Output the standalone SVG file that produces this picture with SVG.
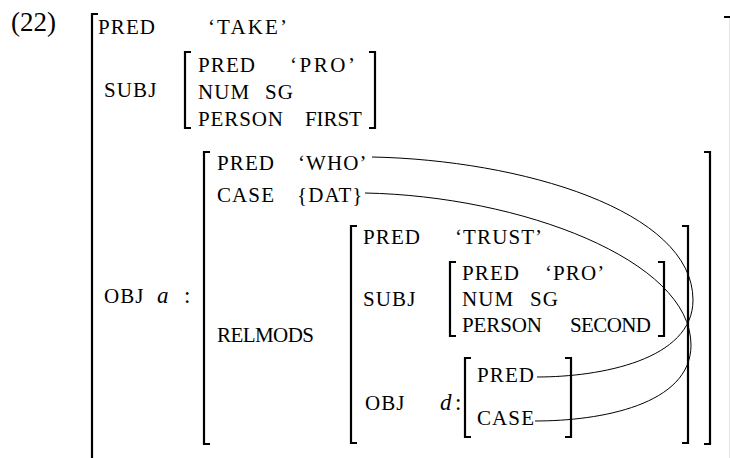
<svg xmlns="http://www.w3.org/2000/svg" width="730" height="458" viewBox="0 0 730 458">
<style>
text{font-family:'Liberation Serif','DejaVu Serif',serif;fill:#000}
.t{font-size:21px;letter-spacing:1.1px}
.m{font-size:23px;font-style:italic}
.n{font-size:23px}
.num{font-size:27px}
.br{fill:none;stroke:#000;stroke-width:2.2}
.c{fill:none;stroke:#000;stroke-width:1}
</style>
<rect width="730" height="458" fill="#fff"/>
<text class="num" x="11" y="31">(22)</text>

<g id="outer">
  <path class="br" d="M98,14 H92 V462"/>
  <path class="br" d="M724,17 H731 V462"/>
  <text class="t" x="98" y="34">PRED</text>
  <text class="t" x="208" y="34" textLength="80">‘TAKE’</text>
  <text class="t" x="104" y="97">SUBJ</text>
  <text class="t" x="104" y="303">OBJ</text>
  <text class="m" x="157" y="303">a</text>
  <text class="n" x="184" y="303">:</text>
</g>

<g id="subj1">
  <path class="br" d="M191,52 H185 V128 H191"/>
  <path class="br" d="M369,52 H375 V128 H369"/>
  <text class="t" x="198" y="72">PRED</text>
  <text class="t" x="290" y="72" textLength="66">‘PRO’</text>
  <text class="t" x="198" y="99">NUM</text>
  <text class="t" x="265" y="99">SG</text>
  <text class="t" x="198" y="126" textLength="86">PERSON</text>
  <text class="t" x="305" y="126" textLength="58">FIRST</text>
</g>

<g id="obj-a">
  <path class="br" d="M210,152 H204 V444 H210"/>
  <path class="br" d="M704,152 H710 V444 H704"/>
  <text class="t" x="217" y="170">PRED</text>
  <text class="t" x="298" y="170">‘WHO’</text>
  <text class="t" x="217" y="202">CASE</text>
  <text class="t" x="297" y="202">{DAT}</text>
  <text class="t" x="217" y="342" textLength="98">RELMODS</text>
</g>

<g id="relmods">
  <path class="br" d="M357,226 H351 V443 H357"/>
  <path class="br" d="M682,226 H688 V443 H682"/>
  <text class="t" x="363" y="244">PRED</text>
  <text class="t" x="455" y="244">‘TRUST’</text>
  <text class="t" x="363" y="306">SUBJ</text>
  <text class="t" x="365" y="410">OBJ</text>
  <text class="m" x="440" y="410">d</text>
  <text class="n" x="455" y="410">:</text>
</g>

<g id="subj2">
  <path class="br" d="M456,262 H450 V336 H456"/>
  <path class="br" d="M658,262 H664 V336 H658"/>
  <text class="t" x="462" y="280">PRED</text>
  <text class="t" x="545" y="280">‘PRO’</text>
  <text class="t" x="462" y="306">NUM</text>
  <text class="t" x="530" y="306">SG</text>
  <text class="t" x="462" y="332" textLength="81">PERSON</text>
  <text class="t" x="570" y="332" textLength="82">SECOND</text>
</g>

<g id="obj-d">
  <path class="br" d="M471,358 H465 V437 H471"/>
  <path class="br" d="M565,358 H571 V437 H565"/>
  <text class="t" x="477" y="382">PRED</text>
  <text class="t" x="477" y="425">CASE</text>
</g>

<g id="connectors">
  <path class="c" d="M372,157 C520,160 693,210 693,300 C693,360 600,377 537,377"/>
  <path class="c" d="M365,193 C520,196 691,260 691,345 C691,405 600,421 535,421"/>
</g>
</svg>
